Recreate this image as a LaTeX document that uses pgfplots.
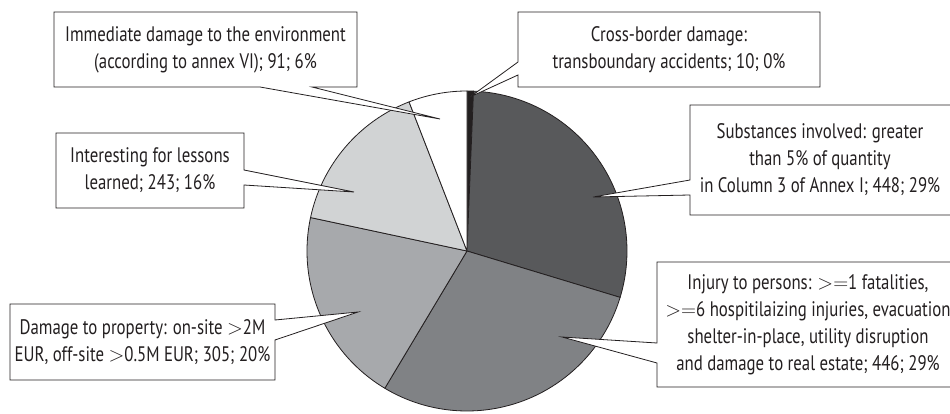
\documentclass[border=0pt]{standalone}
\usepackage{pgfplots}
\pgfplotsset{compat=1.18}
\usepackage{fontspec}
\setmainfont{PT Sans}[FakeStretch=0.8]
\definecolor{cA}{HTML}{231F20}
\definecolor{cB}{HTML}{58595B}
\definecolor{cC}{HTML}{808285}
\definecolor{cD}{HTML}{A7A9AC}
\definecolor{cE}{HTML}{D1D3D4}
\definecolor{cF}{HTML}{FFFFFF}
\begin{document}
\begin{tikzpicture}
\useasboundingbox (0,0) rectangle (950pt,413pt);
\begin{axis}[at={(0,0)},anchor=south west,x=1pt,y=1pt,
  xmin=0,xmax=950,ymin=0,ymax=413,hide axis,clip=false,scale only axis]
\pgfplotsextra{
  \gdef\cum{0}
  \foreach \v/\c in {10/cA,448/cB,446/cC,305/cD,243/cE,91/cF}{
    \pgfmathsetmacro\s{90-\cum/1543*360}
    \pgfmathsetmacro\e{90-(\cum+\v)/1543*360}
    \filldraw[fill=\c,draw=cA,line width=0.8pt,line join=round]
      (axis cs:467,162) -- ++(\s:160pt) arc[start angle=\s,end angle=\e,radius=160pt] -- cycle;
    \pgfmathsetmacro\n{\cum+\v}
    \xdef\cum{\n}
  }
}
\tikzset{callout/.style={fill=white,draw=cA,line width=0.8pt,line join=miter},
  lab/.style={align=center,text=cA,font=\fontsize{21}{27}\selectfont,inner sep=0pt}}
% Environment
\draw[callout] (axis cs:54,401)--(axis cs:357,401)--(axis cs:357,326)--(axis cs:312,326)--(axis cs:440,294)--(axis cs:260,326)--(axis cs:54,326)--cycle;
\node[lab] at (axis cs:205.5,363.5) {Immediate damage to the environment\\(according to annex VI); 91; 6\%};
% Cross-border
\draw[callout] (axis cs:518,401)--(axis cs:820,401)--(axis cs:820,326)--(axis cs:518,326)--(axis cs:518,338)--(axis cs:470,316)--(axis cs:518,351)--cycle;
\node[lab] at (axis cs:669,363.5) {Cross-border damage:\\transboundary accidents; 10; 0\%};
% Substances
\draw[callout] (axis cs:690,308)--(axis cs:958,308)--(axis cs:958,198)--(axis cs:690,198)--(axis cs:690,218)--(axis cs:593,216)--(axis cs:690,233)--cycle;
\node[lab] at (axis cs:820,253) {Substances involved: greater\\than 5\% of quantity\\in Column 3 of Annex I; 448; 29\%};
% Injury
\draw[callout] (axis cs:657,151)--(axis cs:958,151)--(axis cs:958,26)--(axis cs:657,26)--(axis cs:657,50)--(axis cs:562,76)--(axis cs:657,70)--cycle;
\node[lab] at (axis cs:808,88.5) {Injury to persons: $>=$1 fatalities,\\$>=$6 hospitilaizing injuries, evacuation\\shelter-in-place, utility disruption\\and damage to real estate; 446; 29\%};
% Property
\draw[callout] (axis cs:10,109)--(axis cs:275,109)--(axis cs:275,93)--(axis cs:358,101)--(axis cs:275,73)--(axis cs:275,33)--(axis cs:10,33)--cycle;
\node[lab] at (axis cs:142.5,71) {Damage to property: on-site $>$2M\\EUR, off-site $>$0.5M EUR; 305; 20\%};
% Lessons
\draw[callout] (axis cs:56,280)--(axis cs:244,280)--(axis cs:244,243)--(axis cs:354,221)--(axis cs:244,228)--(axis cs:244,205)--(axis cs:56,205)--cycle;
\node[lab] at (axis cs:150,242.5) {Interesting for lessons\\learned; 243; 16\%};
\end{axis}
\end{tikzpicture}
\end{document}
